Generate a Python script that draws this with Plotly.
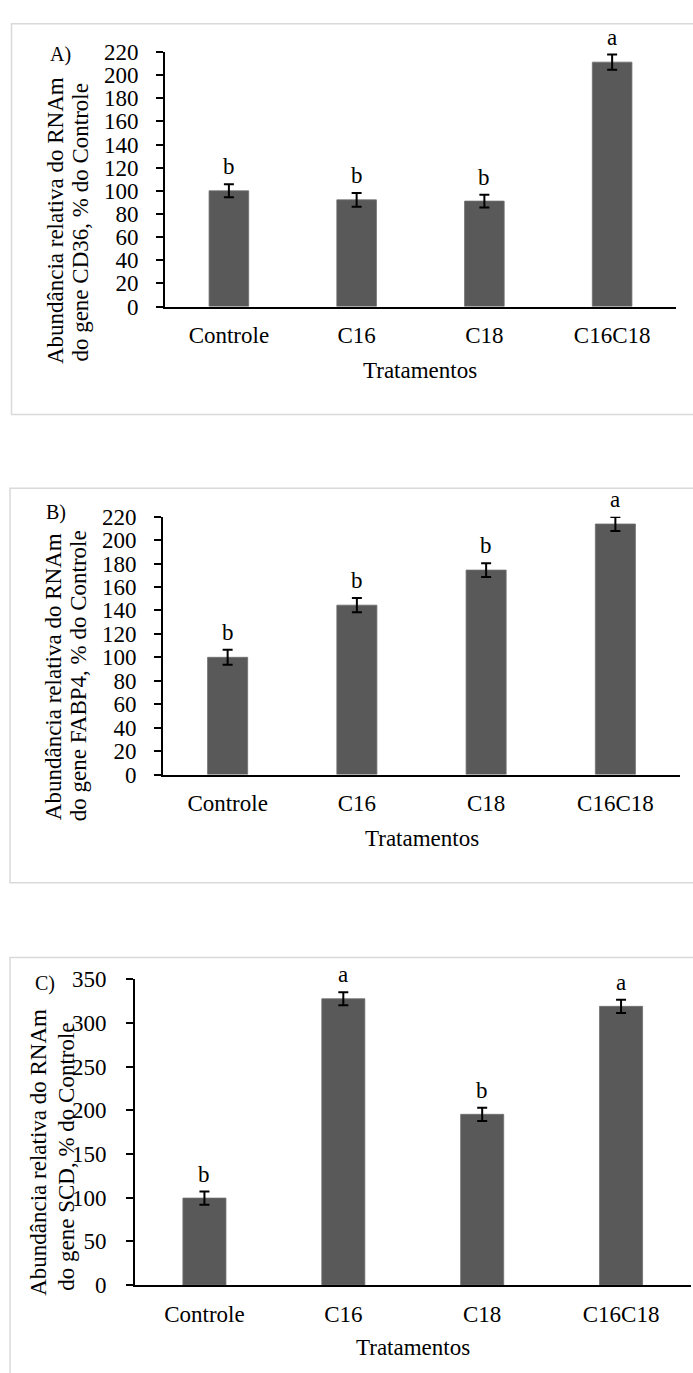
import plotly.graph_objects as go

W, H = 693, 1373

categories = ["Controle", "C16", "C18", "C16C18"]

cd36_values = [100, 92.2, 91.1, 211.2]
cd36_errors = [5.6, 6.0, 5.6, 6.6]
cd36_letters = ["b", "b", "b", "a"]

fabp4_values = [100, 144.5, 174.4, 213.7]
fabp4_errors = [6.4, 6.0, 5.9, 5.9]
fabp4_letters = ["b", "b", "b", "a"]

scd_values = [99.5, 327.5, 195.3, 318.8]
scd_errors = [7.5, 7.5, 7.5, 7.5]
scd_letters = ["b", "a", "b", "a"]

panel_labels = ["A)", "B)", "C)"]
ytitle_line1 = "Abundância relativa do RNAm"
ytitle_line2 = ["do gene CD36, % do Controle", "do gene FABP4, % do Controle", "do gene SCD, % do Controle"]
xtitle = "Tratamentos"

FONT = "Liberation Serif, Times New Roman, serif"
BAR = "#595959"


def px(x):
    return x / W


def py(y):
    return 1 - y / H


panels = [
    dict(vals=cd36_values, errs=cd36_errors, letters=cd36_letters, x0=165, x1=676,
         ybot=300, ytop=40.7, ymax=220, dtick=20, ystand=13,
         box=(11.5, 12, 720, 410), lab=(61, 43), t1=(55, 213), t2=(80.5, 214), xt=(420, 365)),
    dict(vals=fabp4_values, errs=fabp4_errors, letters=fabp4_letters, x0=163, x1=680,
         ybot=776.7, ytop=514, ymax=220, dtick=20, ystand=13,
         box=(10, 485, 720, 887), lab=(56, 510), t1=(53, 677.5), t2=(78, 676.5), xt=(422, 842)),
    dict(vals=scd_values, errs=scd_errors, letters=scd_letters, x0=135, x1=690.5,
         ybot=1296.7, ytop=985, ymax=350, dtick=50, ystand=15,
         box=(10, 963, 720, 1400), lab=(45, 990), t1=(38.5, 1161.5), t2=(67, 1166), xt=(413, 1360)),
]

fig = go.Figure()
annotations = []
shapes = []

for i, p in enumerate(panels):
    n = i + 1
    xa = "x" if n == 1 else f"x{n}"
    ya = "y" if n == 1 else f"y{n}"
    fig.add_trace(go.Bar(
        x=categories, y=p["vals"], xaxis=xa, yaxis=ya,
        marker=dict(color=BAR, line=dict(color="#6e6e6e", width=0.8)),
        error_y=dict(type="data", array=p["errs"], visible=True, color="black",
                     thickness=2, width=5),
        showlegend=False, hoverinfo="skip",
    ))
    xkey = "xaxis" if n == 1 else f"xaxis{n}"
    ykey = "yaxis" if n == 1 else f"yaxis{n}"
    fig.layout[xkey] = dict(
        domain=[px(p["x0"]), px(p["x1"])], anchor=ya,
        showline=True, linecolor="black", linewidth=2,
        ticks="", showgrid=False, zeroline=False,
        tickfont=dict(family=FONT, size=23, color="black"),
        ticklabelstandoff=7, fixedrange=True,
    )
    fig.layout[ykey] = dict(
        domain=[py(p["ybot"]), py(p["ytop"])], anchor=xa,
        range=[0, p["ymax"]], dtick=p["dtick"], tick0=0,
        showline=True, linecolor="black", linewidth=2,
        ticks="outside", ticklen=7, tickwidth=2, tickcolor="black",
        showgrid=False, zeroline=False,
        tickfont=dict(family=FONT, size=23, color="black"),
        ticklabelstandoff=p["ystand"], fixedrange=True,
    )
    # significance letters
    for c, v, e, L in zip(categories, p["vals"], p["errs"], p["letters"]):
        annotations.append(dict(x=c, y=v + e, xref=xa, yref=ya, text=L, showarrow=False,
                                xanchor="center", yanchor="bottom", yshift=3,
                                font=dict(family=FONT, size=23, color="black")))
    # panel label
    annotations.append(dict(x=px(p["lab"][0]), y=py(p["lab"][1]), xref="paper", yref="paper",
                            text=panel_labels[i], showarrow=False, xanchor="center", yanchor="middle",
                            font=dict(family=FONT, size=20, color="black")))
    # y titles
    annotations.append(dict(x=px(p["t1"][0]), y=py(p["t1"][1]), xref="paper", yref="paper",
                            text=ytitle_line1, textangle=-90, showarrow=False,
                            xanchor="center", yanchor="middle",
                            font=dict(family=FONT, size=23, color="black")))
    annotations.append(dict(x=px(p["t2"][0]), y=py(p["t2"][1]), xref="paper", yref="paper",
                            text=ytitle_line2[i], textangle=-90, showarrow=False,
                            xanchor="center", yanchor="middle",
                            font=dict(family=FONT, size=23, color="black")))
    # x title
    annotations.append(dict(x=px(p["xt"][0]), y=py(p["xt"][1]), xref="paper", yref="paper",
                            text=xtitle, showarrow=False, xanchor="center", yanchor="middle",
                            font=dict(family=FONT, size=23, color="black")))
    bx0, by0, bx1, by1 = p["box"]
    shapes.append(dict(type="rect", xref="paper", yref="paper",
                       x0=px(bx0), x1=px(bx1), y0=py(by0), y1=py(by1),
                       line=dict(color="#d9d9d9", width=1.5), fillcolor="rgba(0,0,0,0)", layer="below"))

fig.update_layout(
    width=W, height=H, margin=dict(l=0, r=0, t=0, b=0),
    paper_bgcolor="white", plot_bgcolor="white",
    bargap=0.69, annotations=annotations, shapes=shapes,
    font=dict(family=FONT, color="black"),
)

post = (
    "var d=document.getElementById('{plot_id}');"
    "d.style.position='fixed';d.style.left='0px';d.style.top='0px';"
    "document.body.style.margin='0';document.body.style.padding='0';"
    "document.body.style.overflow='hidden';document.documentElement.style.overflow='hidden';"
    "document.body.style.height='1373px';"
)

fig.write_html("out.html", config={"displayModeBar": False}, post_script=post)
